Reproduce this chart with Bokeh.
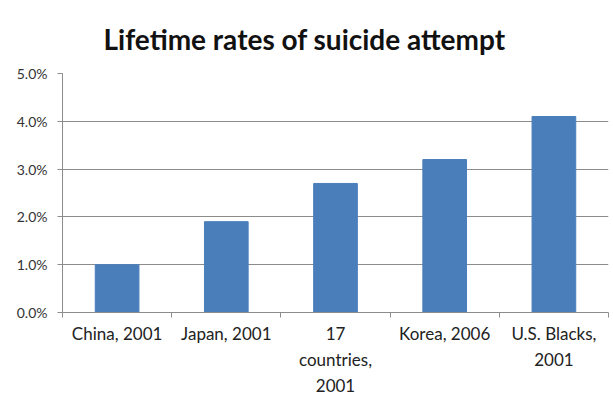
from bokeh.plotting import figure
from bokeh.models import FixedTicker, NumeralTickFormatter, Range1d, ColumnDataSource
from bokeh.embed import file_html
from bokeh.resources import INLINE

# Lifetime suicide-attempt rates by population (fraction of population)
title_text = "Lifetime rates of suicide attempt"
categories = ["China, 2001", "Japan, 2001", "17\ncountries,\n2001", "Korea, 2006", "U.S. Blacks,\n2001"]
rates = [0.010, 0.019, 0.027, 0.032, 0.041]
y_ticks = [0.0, 0.01, 0.02, 0.03, 0.04, 0.05]

BAR = "#4a7ebb"
GRID = "#8c8c8c"
FONT = "Lato"

n = len(categories)
centers = [i + 0.5 for i in range(n)]
src = ColumnDataSource(dict(x=centers, top=rates))

p = figure(width=613, height=414, output_backend="svg", toolbar_location=None,
           x_range=Range1d(0, n), y_range=Range1d(0, 0.05),
           min_border_left=62, min_border_right=5, min_border_top=73, min_border_bottom=102)

p.title.text = title_text
p.title.text_font = FONT
p.title.text_font_size = "28px"
p.title.text_font_style = "bold"
p.title.text_color = "#111111"
p.title.align = "left"
p.title.offset = 41
p.title.standoff = 36

p.vbar(x="x", top="top", width=0.4, source=src, color=BAR)

p.outline_line_color = None
p.xgrid.grid_line_color = None
p.ygrid.grid_line_color = GRID
p.ygrid.grid_line_width = 1

# x axis: category labels at centres, tick marks at boundaries
p.xaxis.ticker = FixedTicker(ticks=centers, minor_ticks=list(range(n + 1)))
p.xaxis.major_label_overrides = {c: lab for c, lab in zip(centers, categories)}
p.xaxis.major_tick_out = 0
p.xaxis.major_tick_in = 0
p.xaxis.minor_tick_out = 5
p.xaxis.minor_tick_in = 0
p.xaxis.minor_tick_line_color = GRID
p.xaxis.axis_line_color = GRID
p.xaxis.major_label_text_font = FONT
p.xaxis.major_label_text_font_size = "17px"
p.xaxis.major_label_text_color = "#222222"
p.xaxis.major_label_text_line_height = 1.25
p.xaxis.major_label_standoff = 5

# y axis: percentage ticks
p.yaxis.ticker = FixedTicker(ticks=y_ticks)
p.yaxis.formatter = NumeralTickFormatter(format="0.0%")
p.yaxis.major_tick_out = 5
p.yaxis.major_tick_in = 0
p.yaxis.minor_tick_out = 0
p.yaxis.minor_tick_in = 0
p.yaxis.major_tick_line_color = GRID
p.yaxis.axis_line_color = GRID
p.yaxis.major_label_text_font = FONT
p.yaxis.major_label_text_font_size = "14px"
p.yaxis.major_label_text_color = "#333333"
p.yaxis.major_label_standoff = 10

open("out.html", "w").write(file_html(p, INLINE))
